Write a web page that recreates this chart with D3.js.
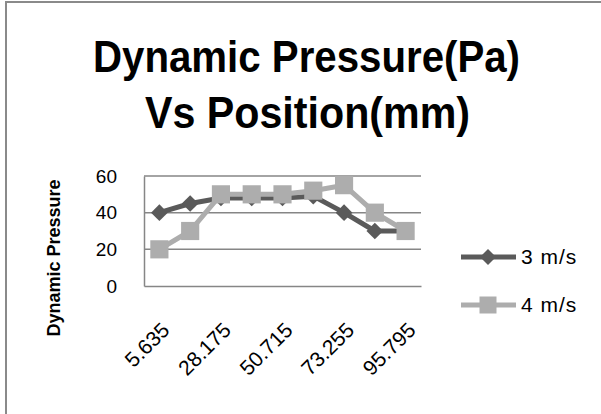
<!DOCTYPE html>
<html>
<head>
<meta charset="utf-8">
<script src="https://cdn.jsdelivr.net/npm/d3@7"></script>
<style>
  html, body { margin: 0; padding: 0; background: #fff; }
  svg { display: block; }
</style>
</head>
<body>
<svg id="chart" width="601" height="414"></svg>
<script>
// Positions along the test section (mm)
const positions = ["5.635", "16.905", "28.175", "39.445", "50.715", "61.985", "73.255", "84.525", "95.795"];
// Dynamic pressure (Pa) at each position for the two inlet speeds
const speed3 = [40, 45, 48, 48, 48, 49, 40, 30, 30];
const speed4 = [20, 30, 50, 50, 50, 52, 55, 40, 30];
const seriesNames = ["3 m/s", "4 m/s"];
const yTicks = [0, 20, 40, 60];
// every other position gets a label on the x axis
const xLabelled = ["5.635", "28.175", "50.715", "73.255", "95.795"];

const svg = d3.select("#chart");
const font = "'Liberation Sans', Arial, sans-serif";

// chart frame
svg.append("rect")
  .attr("x", 6).attr("y", 2).attr("width", 700).attr("height", 500)
  .attr("fill", "#fff").attr("stroke", "#8a8a8a").attr("stroke-width", 2);

const plot = { left: 144, right: 421, top: 176, bottom: 286 };

const x = d3.scaleBand().domain(positions).range([plot.left, plot.right]);
const cx = d => x(d) + x.bandwidth() / 2;
const y = d3.scaleLinear().domain([0, 60]).range([plot.bottom, plot.top]);

// horizontal gridlines
svg.append("g")
  .selectAll("line").data(yTicks.filter(t => t > 0)).join("line")
  .attr("x1", plot.left).attr("x2", plot.right)
  .attr("y1", d => y(d)).attr("y2", d => y(d))
  .attr("stroke", "#868686").attr("stroke-width", 1.5);

// y axis
const yAxis = svg.append("g")
  .attr("transform", `translate(${plot.left},0)`)
  .call(d3.axisLeft(y).tickValues(yTicks).tickSize(0).tickPadding(27));
yAxis.select(".domain").attr("stroke", "#868686").attr("stroke-width", 1.5);
yAxis.selectAll("text").attr("font-family", font).attr("font-size", 19).attr("fill", "#000");

// x axis
const xAxis = svg.append("g")
  .attr("transform", `translate(0,${plot.bottom})`)
  .call(d3.axisBottom(x).tickValues(xLabelled).tickSize(0).tickFormat(""));
xAxis.select(".domain").attr("stroke", "#868686").attr("stroke-width", 1.5);

svg.append("g").selectAll("text").data(xLabelled).join("text")
  .attr("transform", d => `translate(${cx(d) + 1},${plot.bottom + 35}) rotate(-45)`)
  .attr("text-anchor", "end")
  .attr("dy", "0.7em")
  .attr("font-family", font).attr("font-size", 21).attr("fill", "#000")
  .text(d => d);

// axis title
svg.append("text")
  .attr("transform", "translate(60,258) rotate(-90)")
  .attr("text-anchor", "middle")
  .attr("font-family", font).attr("font-weight", "bold").attr("font-size", 18)
  .attr("fill", "#000")
  .text("Dynamic Pressure");

// chart title
const titleFont = "'Liberation Sans Narrow', 'Liberation Sans', Arial, sans-serif";
svg.append("text")
  .attr("x", 93).attr("y", 72)
  .attr("textLength", 427).attr("lengthAdjust", "spacingAndGlyphs")
  .attr("font-family", titleFont).attr("font-weight", "bold").attr("font-size", 44)
  .text("Dynamic Pressure(Pa)");
svg.append("text")
  .attr("x", 145).attr("y", 128)
  .attr("textLength", 325).attr("lengthAdjust", "spacingAndGlyphs")
  .attr("font-family", titleFont).attr("font-weight", "bold").attr("font-size", 44)
  .text("Vs Position(mm)");

const colors = ["#5a5a5a", "#adadad"];
// diamond = square symbol turned 45 degrees
const diamond = d3.symbol().type(d3.symbolSquare).size(140);
const square = d3.symbol().type(d3.symbolSquare).size(330);
const symbols = [diamond, square];
const turn = [45, 0];
const data = [speed3, speed4];

const line = d3.line().x((d, i) => cx(positions[i])).y(d => y(d));

data.forEach((vals, s) => {
  const g = svg.append("g");
  g.append("path").datum(vals)
    .attr("d", line)
    .attr("fill", "none").attr("stroke", colors[s]).attr("stroke-width", 5)
    .attr("stroke-linejoin", "round");
  g.selectAll("path.m").data(vals).join("path").attr("class", "m")
    .attr("transform", (d, i) => `translate(${cx(positions[i])},${y(d)}) rotate(${turn[s]})`)
    .attr("d", symbols[s])
    .attr("fill", colors[s]);
});

// legend
const legend = svg.append("g");
const legendY = [257, 305];
seriesNames.forEach((name, s) => {
  const row = legend.append("g").attr("transform", `translate(0,${legendY[s]})`);
  row.append("line").attr("x1", 461).attr("x2", 516)
    .attr("stroke", colors[s]).attr("stroke-width", 5);
  row.append("path").attr("transform", `translate(488,0) rotate(${turn[s]})`)
    .attr("d", d3.symbol().type(d3.symbolSquare).size(s === 0 ? 128 : 289)).attr("fill", colors[s]);
  row.append("text").attr("x", 521).attr("dy", "0.35em")
    .attr("font-family", font).attr("font-size", 21).attr("letter-spacing", 1).attr("fill", "#000")
    .text(name);
});
</script>
</body>
</html>
